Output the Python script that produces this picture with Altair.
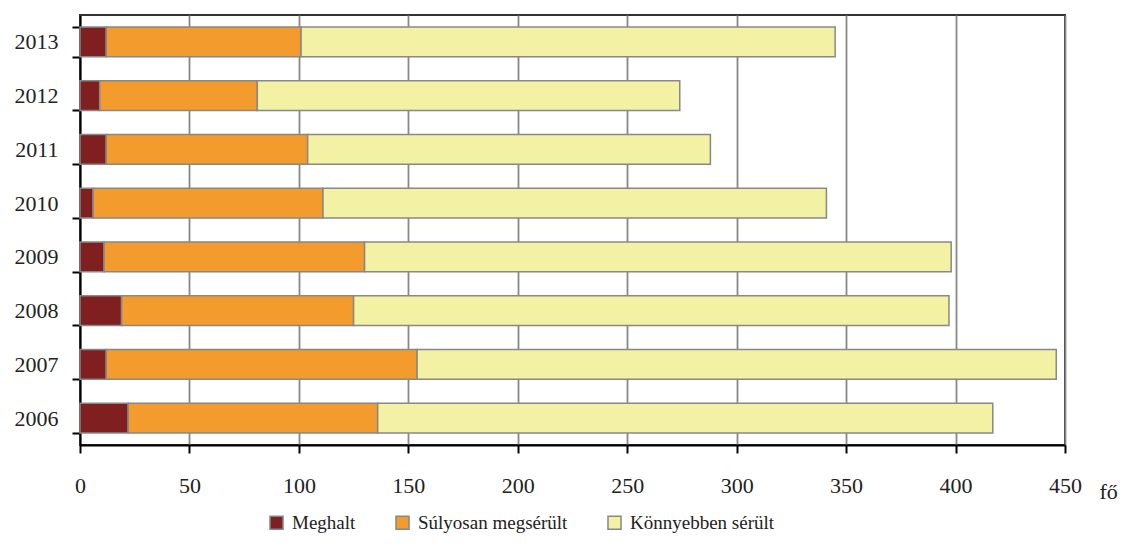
import altair as alt
import pandas as pd

years = ["2006", "2007", "2008", "2009", "2010", "2011", "2012", "2013"]
series = ["Meghalt", "Súlyosan megsérült", "Könnyebben sérült"]
meghalt = [22, 12, 19, 11, 6, 12, 9, 12]
sulyosan = [114, 142, 106, 119, 105, 92, 72, 89]
konnyebben = [281, 292, 272, 268, 230, 184, 193, 244]
colors = ["#7F1F1F", "#F39B2D", "#F3F1A3"]
x_ticks = [0, 50, 100, 150, 200, 250, 300, 350, 400, 450]

rows = []
for i, y in enumerate(years):
    for k, (name, vals) in enumerate(zip(series, [meghalt, sulyosan, konnyebben])):
        rows.append({"ev": y, "kategoria": name, "fo": vals[i], "sorrend": k})
df = pd.DataFrame(rows)

FONT = "Liberation Serif"

chart = alt.Chart(df).mark_bar(stroke="#888888", strokeWidth=1.5).encode(
    x=alt.X("fo:Q", stack="zero",
            scale=alt.Scale(domain=[0, 450], nice=False, zero=True),
            axis=alt.Axis(values=x_ticks, title="fő", grid=True, gridColor="#888888",
                          gridWidth=1.8, domainColor="#000000", domainWidth=2,
                          tickColor="#000000", tickWidth=2, tickSize=8,
                          labelFont=FONT, labelFontSize=22, labelColor="#222222",
                          labelPadding=22, labelFlush=False,
                          titleFont=FONT, titleFontSize=22, titleFontWeight="normal",
                          titleColor="#222222", titleAlign="left", titleBaseline="middle",
                          titleX=1019, titleY=46)),
    y=alt.Y("ev:O", sort="descending",
            scale=alt.Scale(paddingInner=0.45, paddingOuter=0.225),
            axis=alt.Axis(title=None, grid=False, tickBand="extent",
                          domainColor="#000000", domainWidth=2,
                          tickColor="#000000", tickWidth=2, tickSize=8,
                          labelFont=FONT, labelFontSize=22, labelColor="#222222",
                          labelPadding=14)),
    color=alt.Color("kategoria:N",
                    scale=alt.Scale(domain=series, range=colors),
                    legend=alt.Legend(title=None, orient="none", direction="horizontal",
                                      legendX=187, legendY=498,
                                      symbolType="square", symbolSize=170,
                                      symbolStrokeColor="#888888", symbolStrokeWidth=1.5,
                                      labelFont=FONT, labelFontSize=19, labelColor="#222222",
                                      labelOffset=6, columnPadding=36)),
    order=alt.Order("sorrend:Q", sort="ascending"),
).properties(
    width=985, height=430,
    autosize=alt.AutoSizeParams(type="none"),
    padding={"left": 72, "top": 7, "right": 54, "bottom": 95},
).configure_view(
    stroke="#333333", strokeWidth=2
)

chart.save("out.html", embed_options={"renderer": "svg", "actions": False})
